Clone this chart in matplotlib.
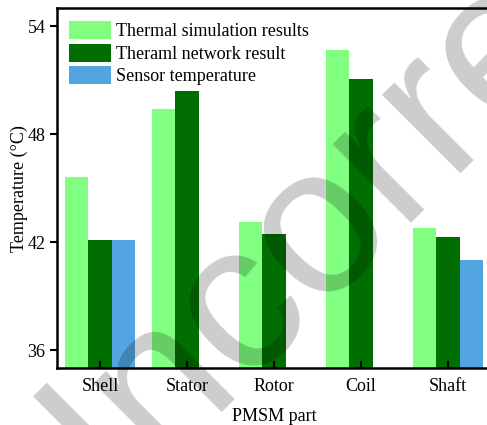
import numpy as np
import matplotlib
matplotlib.use('Agg')
import matplotlib.pyplot as plt
from matplotlib.textpath import TextPath
from matplotlib.font_manager import FontProperties

parts = ['Shell', 'Stator', 'Rotor', 'Coil', 'Shaft']
sim_temp = [45.6, 49.4, 43.1, 52.7, 42.8]
network_temp = [42.1, 50.4, 42.45, 51.05, 42.3]
sensor_temp = [42.1, np.nan, np.nan, np.nan, 41.0]
series_labels = ['Thermal simulation results', 'Theraml network result', 'Sensor temperature']
y_ticks = [36, 42, 48, 54]

W, H, DPI = 487, 425, 100
plt.rcParams['font.family'] = ['Liberation Serif', 'DejaVu Serif']
plt.rcParams['font.size'] = 13

fig = plt.figure(figsize=(W / DPI, H / DPI), dpi=DPI)
ax = fig.add_axes([0.1164, 0.1334, 0.893, 0.8471])

x = np.arange(len(parts))
w = 0.27
ax.bar(x - w, sim_temp, w, color='#80FF80', label=series_labels[0])
ax.bar(x, network_temp, w, color='#006E00', label=series_labels[1])
ax.bar(x + w, sensor_temp, w, color='#52A5E0', label=series_labels[2])

ax.set_xlim(-0.5, 4.5)
ax.set_ylim(35, 55)
ax.set_xticks(x)
ax.set_xticklabels(parts)
ax.set_yticks(y_ticks)
ax.tick_params(axis='x', direction='in', length=5, width=1.5, pad=7)
ax.tick_params(axis='y', direction='out', length=5, width=1.5, pad=3)
for s in ax.spines.values():
    s.set_linewidth(1.8)

ax.set_xlabel('PMSM part', labelpad=9)
ax.set_ylabel('Temperature (°C)', labelpad=0)

ax.legend(loc='upper left', bbox_to_anchor=(0.0, 1.0), frameon=False,
          handlelength=2.3, handleheight=1.15, labelspacing=0.2,
          handletextpad=0.3, borderaxespad=0.4, borderpad=0.3)

# grey watermark drawn over the bars, placed so its "o" sits at (316, 220) px
wm_font = FontProperties(family='Liberation Sans')
wm_pt = 151
em = wm_pt * DPI / 72
o_box = TextPath((0, 0), 'o', size=em, prop=wm_font).get_extents()
inco_box = TextPath((0, 0), 'Inco', size=em, prop=wm_font).get_extents()
ox = inco_box.x1 - o_box.width / 2
oy = (o_box.y0 + o_box.y1) / 2
ang = np.deg2rad(45)
tx, ty = 316, H - 220
ax_px = tx - (ox * np.cos(ang) - oy * np.sin(ang))
ay_px = ty - (ox * np.sin(ang) + oy * np.cos(ang))
fig.text(ax_px / W, ay_px / H, 'Incorrect', rotation=45, fontsize=wm_pt,
         fontproperties=wm_font, color='black', alpha=0.2,
         ha='left', va='baseline', rotation_mode='anchor', zorder=10)

fig.savefig('out.png', dpi=DPI)
